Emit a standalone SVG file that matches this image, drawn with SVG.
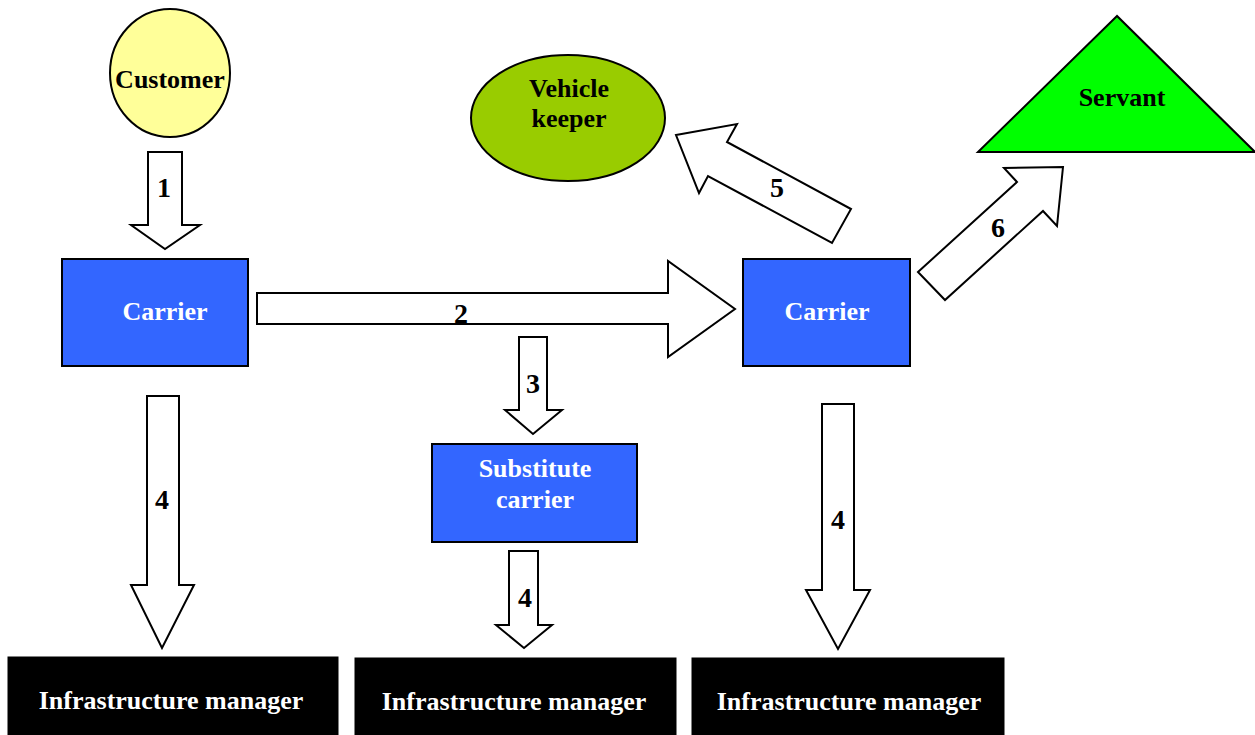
<svg xmlns="http://www.w3.org/2000/svg" width="1255" height="735" viewBox="0 0 1255 735">
<style>
.t{font-family:"Liberation Serif","Times New Roman",serif;font-weight:bold;font-size:26px;text-anchor:middle}
.n{font-size:28px}
.w{fill:#ffffff}
.k{fill:#000000}
.box{fill:#3366FF;stroke:#000;stroke-width:2}
.im{fill:#000;stroke:#000;stroke-width:1}
.arr{fill:#fff;stroke:#000;stroke-width:2;stroke-linejoin:miter}
</style>
<rect width="1255" height="735" fill="#fff"/>
<g id="customer">
<ellipse cx="170" cy="73" rx="60" ry="64" fill="#FFFF99" stroke="#000" stroke-width="2"/>
<text class="t k" x="170" y="88">Customer</text>
</g>
<g id="vehicle-keeper">
<ellipse cx="568" cy="118" rx="97" ry="63" fill="#99CC00" stroke="#000" stroke-width="2"/>
<text class="t k" x="569" y="97">Vehicle</text>
<text class="t k" x="569" y="127">keeper</text>
</g>
<g id="servant">
<polygon points="1117,16 978,152 1255,152" fill="#00FF00" stroke="#000" stroke-width="2"/>
<text class="t k" x="1122" y="106">Servant</text>
</g>
<g id="carrier-1">
<rect class="box" x="62" y="259" width="186" height="107"/>
<text class="t w" x="165" y="320">Carrier</text>
</g>
<g id="carrier-2">
<rect class="box" x="743" y="259" width="167" height="107"/>
<text class="t w" x="827" y="320">Carrier</text>
</g>
<g id="substitute-carrier">
<rect class="box" x="432" y="444" width="205" height="98"/>
<text class="t w" x="535" y="477">Substitute</text>
<text class="t w" x="535" y="508">carrier</text>
</g>
<g id="im-1">
<rect class="im" x="8" y="657" width="330" height="80"/>
<text class="t w" x="171" y="709">Infrastructure manager</text>
</g>
<g id="im-2">
<rect class="im" x="355" y="658" width="321" height="79"/>
<text class="t w" x="514" y="710">Infrastructure manager</text>
</g>
<g id="im-3">
<rect class="im" x="692" y="658" width="312" height="79"/>
<text class="t w" x="849" y="710">Infrastructure manager</text>
</g>
<g id="connectors">
<polygon class="arr" points="148,152 182,152 182,225 200,225 165,249 131,225 148,225"/>
<text class="t n k" x="164" y="197">1</text>
<polygon class="arr" points="257,293 668,293 668,261 735,309 668,357 668,324 257,324"/>
<text class="t n k" x="461" y="323">2</text>
<polygon class="arr" points="519,337 547,337 547,410 562,410 533,434 505,410 519,410"/>
<text class="t n k" x="533" y="393">3</text>
<polygon class="arr" points="147,396 179,396 179,585 194,585 162,648 131,585 147,585"/>
<text class="t n k" x="162" y="509">4</text>
<polygon class="arr" points="509,551 538,551 538,625 552,625 524,648 496,625 509,625"/>
<text class="t n k" x="525" y="607">4</text>
<polygon class="arr" points="822,404 854,404 854,590 870,590 838,649 806,590 822,590"/>
<text class="t n k" x="838" y="529">4</text>
<polygon class="arr" points="676,135 737,124 727,142 851,209 832,243 708,176 699,193"/>
<text class="t n k" x="777" y="197">5</text>
<polygon class="arr" points="918,272 1017,182 1004,168 1063,167 1057,226 1043,211 945,300"/>
<text class="t n k" x="998" y="237">6</text>
</g>
</svg>
